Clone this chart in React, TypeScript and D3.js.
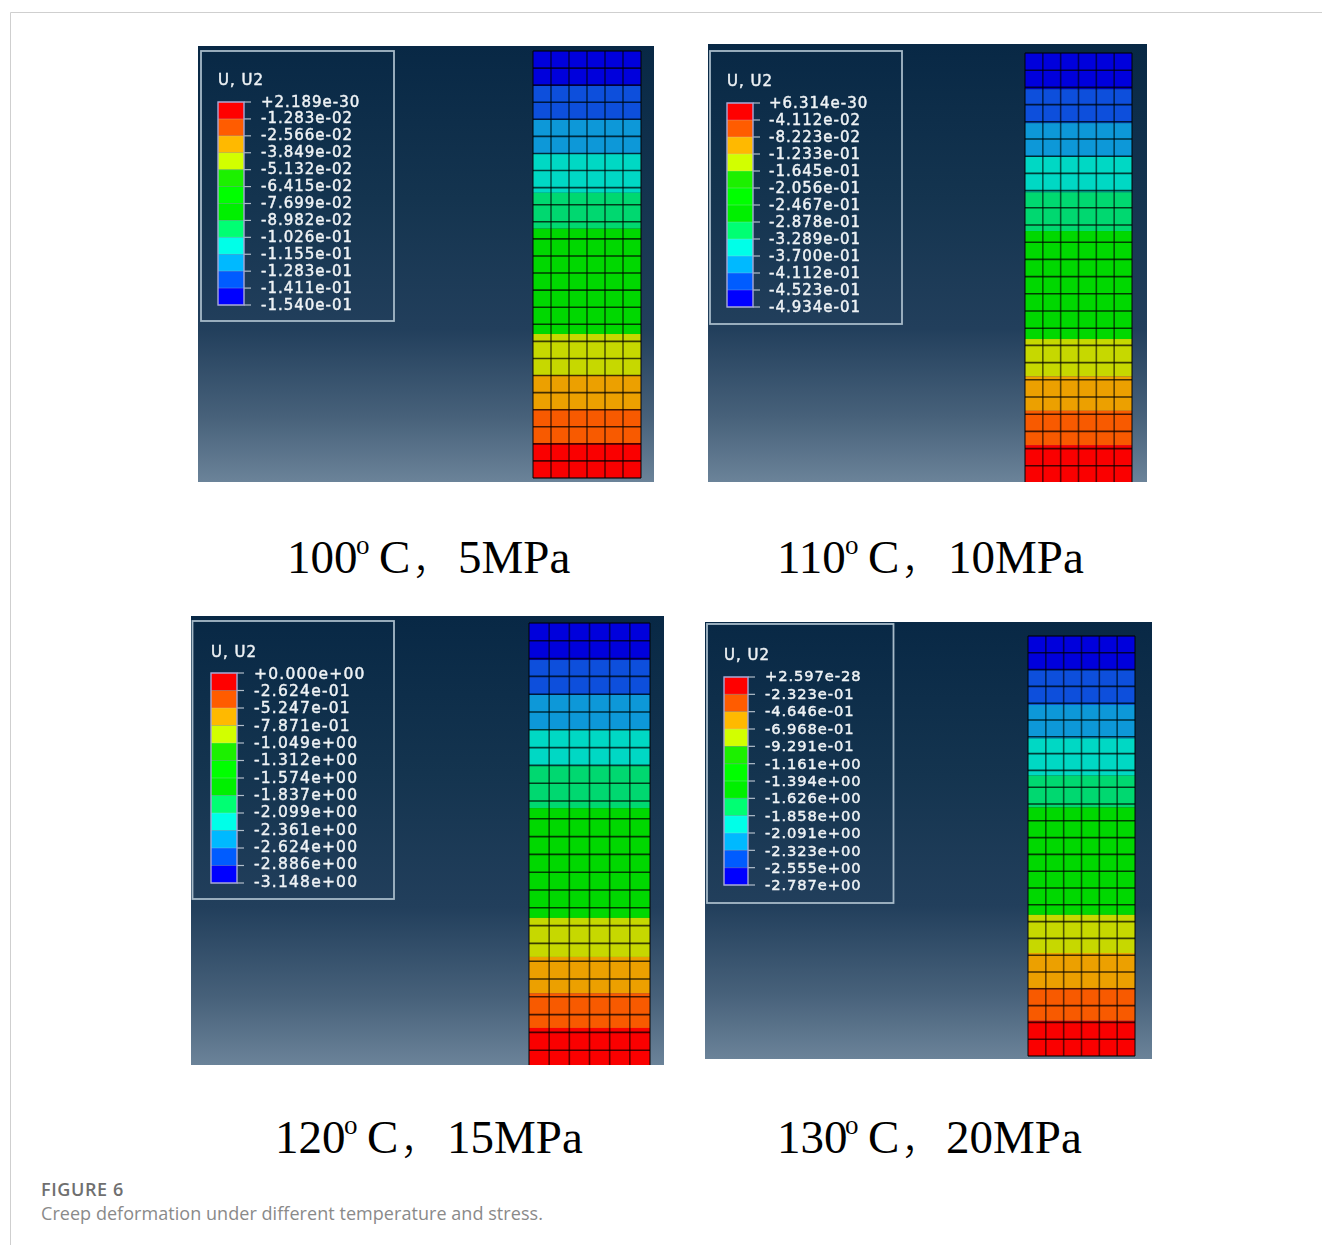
import React from "react";
import * as d3 from "d3";

// ---------- data ----------
const legendTitle = "U, U2";
const labels100 = ["+2.189e-30","-1.283e-02","-2.566e-02","-3.849e-02","-5.132e-02","-6.415e-02","-7.699e-02","-8.982e-02","-1.026e-01","-1.155e-01","-1.283e-01","-1.411e-01","-1.540e-01"];
const labels110 = ["+6.314e-30","-4.112e-02","-8.223e-02","-1.233e-01","-1.645e-01","-2.056e-01","-2.467e-01","-2.878e-01","-3.289e-01","-3.700e-01","-4.112e-01","-4.523e-01","-4.934e-01"];
const labels120 = ["+0.000e+00","-2.624e-01","-5.247e-01","-7.871e-01","-1.049e+00","-1.312e+00","-1.574e+00","-1.837e+00","-2.099e+00","-2.361e+00","-2.624e+00","-2.886e+00","-3.148e+00"];
const labels130 = ["+2.597e-28","-2.323e-01","-4.646e-01","-6.968e-01","-9.291e-01","-1.161e+00","-1.394e+00","-1.626e+00","-1.858e+00","-2.091e+00","-2.323e+00","-2.555e+00","-2.787e+00"];

// Contour band starts along the mesh height, in element rows from the top
const bands100 = [0, 2.05, 4.04, 6.03, 8.3, 10.4, 16.57, 18.97, 20.96, 22.95];
const bands110 = [0, 2.11, 4.08, 6.03, 8.1, 10.35, 16.63, 18.8, 20.8, 22.8];
const bands120 = [0, 2.08, 4.04, 5.96, 8.03, 10.4, 16.57, 18.76, 20.8, 22.75];
const bands130 = [0, 2.02, 4.1, 6.1, 8.3, 10.2, 16.6, 18.87, 20.95, 22.9];

const temperatures = ["100", "110", "120", "130"];
const stresses = ["5MPa", "10MPa", "15MPa", "20MPa"];
const figureLabel = "FIGURE 6";
const figureCaption = "Creep deformation under different temperature and stress.";

const legendColors = ["#ff0000","#ff5c00","#ffb900","#d2ff00","#1cf000","#00ff00","#00f000","#00ff73","#00ffe8","#00b9ff","#005cff","#0000ff"];
const meshColors = ["#0000dc","#0a4fdc","#0a98d8","#00d8c4","#00d870","#00d800","#c6d800","#eca000","#f85a00","#fa0000"];
const meshRows = 25;
const meshCols = 6;

// ---------- layout ----------
const panels = [
  { labels: labels100, bands: bands100, img: [198, 46, 654, 482], box: [201, 51, 394, 321], title: [218, 85], bar: [218, 244, 102, 305], lx: 261, ly: [101, 304], fs: 15, ls: 1, mesh: [533, 641, 51, 478],
    cap: { y: 573, t: 287, o: 356, c: 379, comma: 412, s: 458 } },
  { labels: labels110, bands: bands110, img: [708, 44, 1147, 482], box: [710, 51, 902, 324], title: [727, 86], bar: [727, 753, 103, 307], lx: 769, ly: [102, 306], fs: 15, ls: 1, mesh: [1025, 1132, 53, 483],
    cap: { y: 573, t: 777, o: 845, c: 868, comma: 901, s: 948 } },
  { labels: labels120, bands: bands120, img: [191, 616, 664, 1065], box: [192.5, 621, 394, 899], title: [211, 657], bar: [211, 237, 673, 883], lx: 254, ly: [673, 881], fs: 15.5, ls: 1.2, mesh: [529, 650, 623, 1068],
    cap: { y: 1153, t: 275, o: 344, c: 367, comma: 400, s: 447 } },
  { labels: labels130, bands: bands130, img: [705, 622, 1152, 1059], box: [707, 624, 893.5, 903], title: [724, 660], bar: [724, 748, 677, 885], lx: 765, ly: [676, 885], fs: 14.7, ls: 0.9, mesh: [1028, 1135, 636, 1056],
    cap: { y: 1153, t: 777, o: 845, c: 868, comma: 901, s: 946 } },
];

const serif = "'Liberation Serif', serif";
const legendFont = "'DejaVu Sans', sans-serif";

function Panel({ p, i }: { p: (typeof panels)[number]; i: number }) {
  const [x0, y0, x1, y1] = p.img;
  const [mx0, mx1, my0, my1] = p.mesh;
  const rowY = d3.scaleLinear().domain([0, meshRows]).range([my0, my1]);
  const colX = d3.scaleLinear().domain([0, meshCols]).range([mx0, mx1]);
  const [bx0, bx1, by0, by1] = p.bar;
  const barY = d3.scaleLinear().domain([0, legendColors.length]).range([by0, by1]);
  const labelY = d3.scalePoint<string>().domain(d3.range(p.labels.length).map(String)).range(p.ly);
  const color = d3.scaleOrdinal<number, string>().domain(d3.range(meshColors.length)).range(meshColors);
  return (
    <g clipPath={`url(#clip${i})`}>
      <defs>
        <clipPath id={`clip${i}`}><rect x={x0} y={y0} width={x1 - x0} height={y1 - y0} /></clipPath>
      </defs>
      <rect x={x0} y={y0} width={x1 - x0} height={y1 - y0} fill="url(#bg)" />
      <g filter="url(#soft)">
        <rect x={p.box[0]} y={p.box[1]} width={p.box[2] - p.box[0]} height={p.box[3] - p.box[1]} fill="none" stroke="#a6bac8" strokeWidth={1.8} />
        <text x={p.title[0]} y={p.title[1]} fill="#eef2f5" stroke="#eef2f5" strokeWidth={0.45} fontFamily={legendFont} fontSize={15} letterSpacing={1}>{legendTitle}</text>
        {legendColors.map((c, k) => (
          <rect key={c + k} x={bx0} y={barY(k)} width={bx1 - bx0} height={barY(k + 1) - barY(k)} fill={c} />
        ))}
        {d3.range(legendColors.length + 1).map((k) => (
          <g key={k} stroke="#c2ccd6">
            <line x1={bx0} x2={bx1} y1={barY(k)} y2={barY(k)} strokeOpacity={0.3} strokeWidth={1} />
            <line x1={bx1} x2={bx1 + 7} y1={barY(k)} y2={barY(k)} strokeOpacity={0.9} strokeWidth={1.2} />
          </g>
        ))}
        <rect x={bx0} y={by0} width={bx1 - bx0} height={by1 - by0} fill="none" stroke="#a8a8d8" strokeWidth={1.4} />
        {p.labels.map((t, k) => (
          <text key={t + k} x={p.lx} y={labelY(String(k))} dy="0.37em" fill="#eef2f5" stroke="#eef2f5" strokeWidth={0.45} fontFamily={legendFont} fontSize={p.fs} letterSpacing={p.ls}>{t}</text>
        ))}
        {p.bands.map((b, k) => {
          const next = k + 1 < p.bands.length ? p.bands[k + 1] : meshRows;
          return <rect key={k} x={mx0} y={rowY(b)} width={mx1 - mx0} height={rowY(next) - rowY(b)} fill={color(k)} />;
        })}
        {d3.range(meshRows + 1).map((r) => (
          <line key={r} x1={mx0} x2={mx1} y1={rowY(r)} y2={rowY(r)} stroke="#000" strokeOpacity={0.72} strokeWidth={1.6} />
        ))}
        {d3.range(meshCols + 1).map((c) => (
          <line key={c} x1={colX(c)} x2={colX(c)} y1={my0} y2={my1} stroke="#000" strokeOpacity={0.6} strokeWidth={1.6} />
        ))}
      </g>
    </g>
  );
}

function Caption({ p, i }: { p: (typeof panels)[number]; i: number }) {
  const { cap } = p;
  return (
    <g fill="#000" fontFamily={serif} fontSize={47}>
      <text x={cap.t} y={cap.y}>{temperatures[i]}</text>
      <text x={cap.o} y={cap.y - 19} fontSize={27}>o</text>
      <text x={cap.c} y={cap.y}>C</text>
      <text x={cap.comma} y={cap.y + 1} fontFamily="'Noto Sans CJK SC', sans-serif" fontWeight={300} fontSize={40}>，</text>
      <text x={cap.s} y={cap.y}>{stresses[i]}</text>
    </g>
  );
}

export default function App() {
  return (
    <svg width={1322} height={1245} viewBox="0 0 1322 1245" style={{ position: "absolute", left: 0, top: 0, display: "block", background: "#fff" }}>
      <defs>
        <linearGradient id="bg" x1="0" y1="0" x2="0" y2="1">
          <stop offset="0" stopColor="#082845" />
          <stop offset="0.35" stopColor="#14344f" />
          <stop offset="0.65" stopColor="#223f5c" />
          <stop offset="0.85" stopColor="#47617a" />
          <stop offset="1" stopColor="#6b8399" />
        </linearGradient>
        <filter id="soft" filterUnits="userSpaceOnUse" x="0" y="0" width="1322" height="1245">
          <feGaussianBlur stdDeviation="0.7" />
        </filter>
      </defs>
      <path d="M10.5 1245V12.5H1322" fill="none" stroke="#cfcfcf" strokeWidth={1} />
      {panels.map((p, i) => <Panel key={i} p={p} i={i} />)}
      {panels.map((p, i) => <Caption key={i} p={p} i={i} />)}
      <text x={41} y={1196} fill="#6f6f6f" fontFamily="'Open Sans', sans-serif" fontSize={18} fontWeight={600} letterSpacing={0.6}>{figureLabel}</text>
      <text x={41} y={1220} fill="#8a8a8a" fontFamily="'Open Sans', sans-serif" fontSize={18} letterSpacing={0.05}>{figureCaption}</text>
    </svg>
  );
}
